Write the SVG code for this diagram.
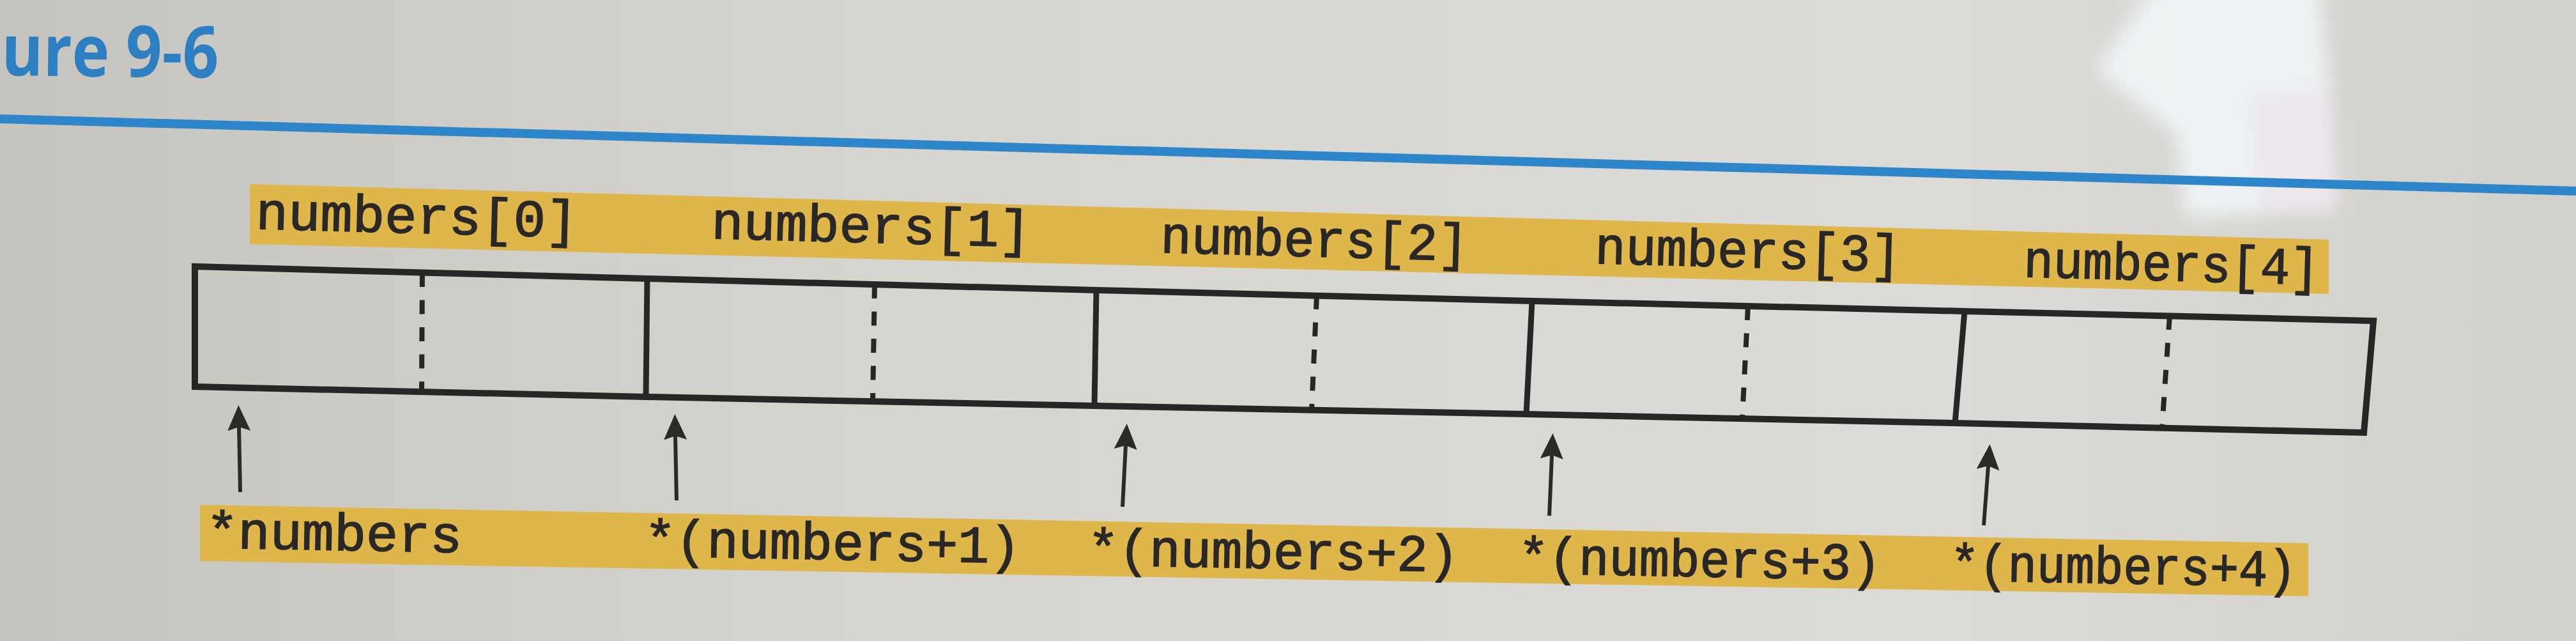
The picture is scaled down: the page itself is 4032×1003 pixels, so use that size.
<svg xmlns="http://www.w3.org/2000/svg" width="4032" height="1003" viewBox="0 0 4032 1003">
<defs>
<linearGradient id="bg" x1="0" y1="0" x2="1" y2="0">
<stop offset="0" stop-color="#c6c4bf"/>
<stop offset="0.35" stop-color="#d6d5d0"/>
<stop offset="0.75" stop-color="#dcdbd7"/>
<stop offset="1" stop-color="#d1d0cb"/>
</linearGradient>
<filter id="blur" x="-20%" y="-20%" width="140%" height="140%"><feGaussianBlur stdDeviation="14"/></filter>
<marker id="head" markerUnits="userSpaceOnUse" markerWidth="44" markerHeight="40" refX="6" refY="18" orient="auto" viewBox="0 0 44 36">
<path d="M0,0 L40,18 L0,36 L6,18 Z" fill="#2b2a29"/>
</marker>
<style>
.band{fill:#dfb64a}
.lbl{font-family:"Liberation Mono","DejaVu Sans Mono",monospace;font-size:82px;fill:#2a2826;stroke:#2a2826;stroke-width:1.6px}
.title{font-family:"Open Sans","Noto Sans",sans-serif;font-weight:bold;font-size:112px;fill:#2e7ec2}
.solid{stroke:#262626;stroke-width:9;fill:none}
.edge{stroke:#262626;stroke-width:10;fill:none;stroke-linejoin:miter}
.dash{stroke:#262626;stroke-width:8;stroke-dasharray:22 20.5;fill:none}
.arrow{stroke:#2b2a29;stroke-width:6;fill:none;marker-end:url(#head)}
</style>
</defs>
<rect x="0" y="0" width="4032" height="1003" fill="url(#bg)"/>
<g id="glare" filter="url(#blur)" opacity="0.9">
<path d="M3368,-20 L3632,-20 L3645,120 L3655,330 L3420,340 L3405,210 L3280,110 Z" fill="#f0f5f7"/>
<path d="M3520,150 L3650,140 L3660,330 L3540,335 Z" fill="#efe6ef" opacity="0.7"/>
</g>
<g id="heading">
<text class="title" x="2" y="118" textLength="340" lengthAdjust="spacingAndGlyphs" transform="rotate(0.6 0 118)">ure 9-6</text>
<line x1="0" y1="186" x2="4032" y2="299" stroke="#2d86c9" stroke-width="14"/>
</g>
<g id="top-labels">
<polygon class="band" points="391,288 3645,375 3645,460 391,382"/>
<text class="lbl" x="400" y="358" textLength="504" lengthAdjust="spacingAndGlyphs" transform="rotate(1.53 400 358)">numbers[0]</text>
<text class="lbl" x="1113" y="373" textLength="500" lengthAdjust="spacingAndGlyphs" transform="rotate(1.53 1113 373)">numbers[1]</text>
<text class="lbl" x="1816" y="395" textLength="482" lengthAdjust="spacingAndGlyphs" transform="rotate(1.53 1816 395)">numbers[2]</text>
<text class="lbl" x="2496" y="412" textLength="479" lengthAdjust="spacingAndGlyphs" transform="rotate(1.53 2496 412)">numbers[3]</text>
<text class="lbl" x="3167" y="433" textLength="463" lengthAdjust="spacingAndGlyphs" transform="rotate(1.53 3167 433)">numbers[4]</text>
</g>
<g id="array">
<polygon class="edge" points="305,417 1013,436 1716,454 2398,471 3075,487 3715,502 3700,677 3060,662 2389,648 1713,635 1011,621 305,605"/>
<line class="solid" x1="1013" y1="436" x2="1011" y2="621"/>
<line class="solid" x1="1716" y1="454" x2="1713" y2="635"/>
<line class="solid" x1="2398" y1="471" x2="2389" y2="648"/>
<line class="solid" x1="3075" y1="487" x2="3060" y2="662"/>
<line class="dash" x1="661" y1="427" x2="660" y2="613"/>
<line class="dash" x1="1369" y1="445" x2="1366" y2="628"/>
<line class="dash" x1="2061" y1="462" x2="2053" y2="641"/>
<line class="dash" x1="2736" y1="479" x2="2727" y2="655"/>
<line class="dash" x1="3396" y1="494" x2="3384" y2="670"/>
</g>
<g id="connectors">
<line class="arrow" x1="376" y1="770" x2="374" y2="668"/>
<line class="arrow" x1="1059" y1="783" x2="1057" y2="682"/>
<line class="arrow" x1="1757" y1="793" x2="1762" y2="697"/>
<line class="arrow" x1="2425" y1="807" x2="2429" y2="712"/>
<line class="arrow" x1="3105" y1="822" x2="3112" y2="729"/>
</g>
<g id="bottom-labels">
<polygon class="band" points="313,790 3613,850 3613,933 313,878"/>
<text class="lbl" x="322" y="857" textLength="401" lengthAdjust="spacingAndGlyphs" transform="rotate(1.05 322 857)">*numbers</text>
<text class="lbl" x="1008" y="870" textLength="589" lengthAdjust="spacingAndGlyphs" transform="rotate(1.05 1008 870)">*(numbers+1)</text>
<text class="lbl" x="1702" y="884" textLength="581" lengthAdjust="spacingAndGlyphs" transform="rotate(1.05 1702 884)">*(numbers+2)</text>
<text class="lbl" x="2376" y="897" textLength="568" lengthAdjust="spacingAndGlyphs" transform="rotate(1.05 2376 897)">*(numbers+3)</text>
<text class="lbl" x="3052" y="908" textLength="542" lengthAdjust="spacingAndGlyphs" transform="rotate(1.05 3052 908)">*(numbers+4)</text>
</g>
</svg>
